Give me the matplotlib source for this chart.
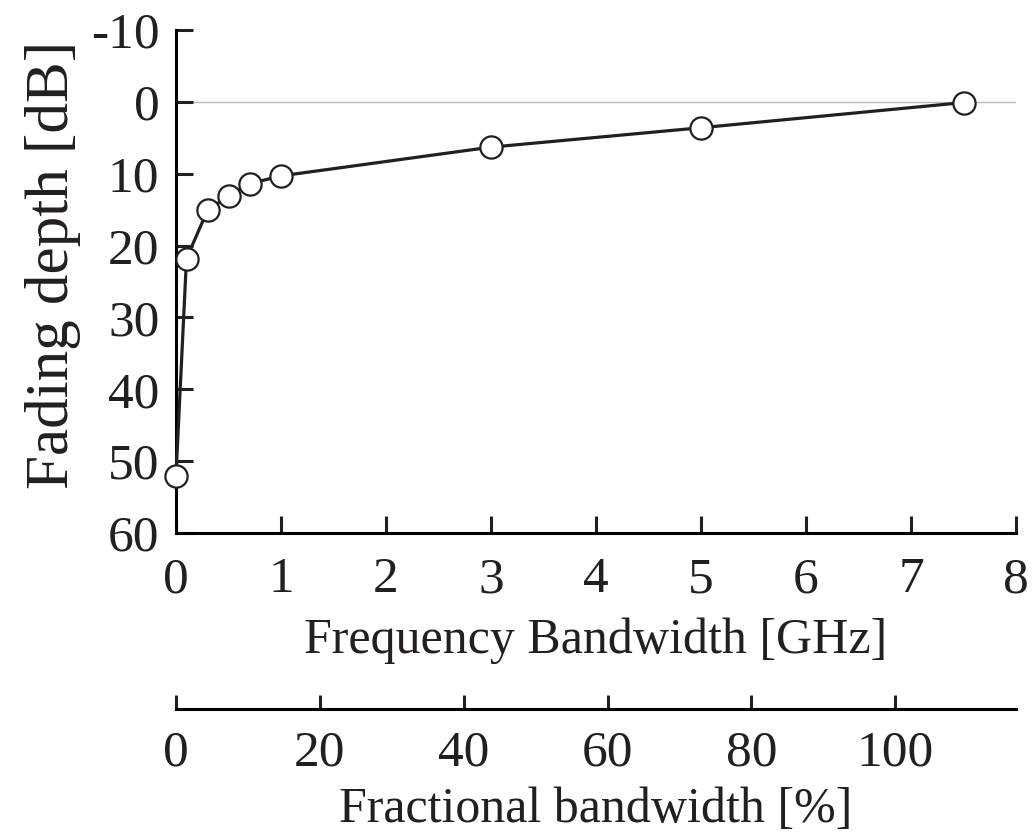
import matplotlib
matplotlib.use("Agg")
import matplotlib.pyplot as plt

# data
bandwidth_ghz = [0.0, 0.1, 0.3, 0.5, 0.7, 1.0, 3.0, 5.0, 7.5]
fading_db = [52.0, 21.8, 15.1, 13.1, 11.4, 10.3, 6.3, 3.6, 0.1]

y_ticks = [-10, 0, 10, 20, 30, 40, 50, 60]
x_ticks = [0, 1, 2, 3, 4, 5, 6, 7, 8]
pct_ticks = [0, 20, 40, 60, 80, 100]
center_ghz = 6.85  # UWB centre frequency used for fractional bandwidth

plt.rcParams.update({
    'font.family': ['Liberation Serif', 'DejaVu Serif'],
    'axes.unicode_minus': False,
    'axes.linewidth': 2.2,
    'xtick.major.width': 2.2,
    'ytick.major.width': 2.2,
    'xtick.direction': 'in',
    'ytick.direction': 'in',
})

fig = plt.figure(figsize=(10.32, 8.34), dpi=100)
ax = fig.add_axes([176 / 1032, 1 - 533 / 834, (1016 - 176) / 1032, (533 - 30) / 834])

ax.axhline(0, color='#bbbbbb', linewidth=1.0, zorder=1)
ax.plot(bandwidth_ghz, fading_db, color='#231f20', linewidth=2.3,
        marker='o', markersize=16, markerfacecolor='white',
        markeredgecolor='#231f20', markeredgewidth=1.6, clip_on=False, zorder=3)

ax.set_xlim(0, 8)
ax.set_ylim(60, -10)
ax.set_xticks(x_ticks)
ax.set_yticks(y_ticks)
ax.spines['top'].set_visible(False)
ax.spines['right'].set_visible(False)
ax.tick_params(axis='both', labelsize=37, length=12, colors='#231f20')
ax.tick_params(axis='y', pad=12)
ax.tick_params(axis='x', pad=17)
ax.set_xlabel('Frequency Bandwidth [GHz]', fontsize=36, labelpad=10, color='#231f20')
ax.set_ylabel('Fading depth [dB]', fontsize=44, color='#231f20')
ax.yaxis.set_label_coords(-0.113, (533 - 265) / 503)

# second axis: fractional bandwidth
sec = ax.secondary_xaxis(-(709 - 533) / 503,
                         functions=(lambda g: g / center_ghz * 100,
                                    lambda p: p * center_ghz / 100))
sec.set_xticks(pct_ticks)
sec.tick_params(labelsize=37, length=10, pad=15, colors='#231f20')
sec.spines['bottom'].set_linewidth(2.2)
sec.set_xlabel('Fractional bandwidth [%]', fontsize=36, labelpad=7, color='#231f20')

plt.savefig('out.png', dpi=100)
